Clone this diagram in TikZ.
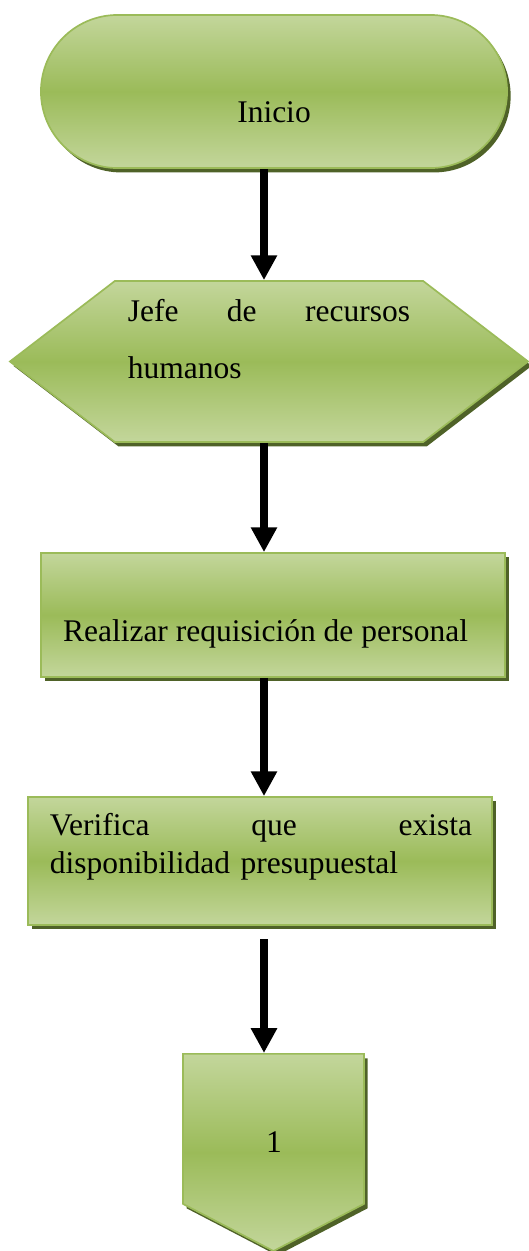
\documentclass[tikz,border=0pt]{standalone}
\usepackage{fontspec}
\setmainfont{Liberation Serif}
\usepackage{tikz}
\usetikzlibrary{arrows.meta, shapes.misc, shapes.symbols, shadows}
\definecolor{verdeclaro}{RGB}{195,214,155}
\definecolor{verdemedio}{RGB}{155,187,89}
\definecolor{bordeverde}{RGB}{155,187,89}
\definecolor{sombraverde}{RGB}{79,98,40}

\begin{document}
\begin{tikzpicture}[
    x=0.025cm, y=-0.025cm,
    caja/.style={draw=bordeverde, line width=1.2pt, inner sep=0pt, top color=verdeclaro, bottom color=verdeclaro, middle color=verdemedio,
        drop shadow={shadow xshift=0.09cm, shadow yshift=-0.11cm, fill=sombraverde, opacity=1}},
    texto/.style={font=\fontsize{22.4}{26.8}\selectfont, inner sep=0pt},
    flecha/.style={line width=0.21cm, -{Triangle[width=0.62cm, length=0.62cm]}}
]
    \useasboundingbox (0,0) rectangle (528,1251);

    % Shapes
    \node[caja, rounded rectangle, minimum width=11.65cm, minimum height=3.825cm] (inicio) at (274,91.5) {};
    \node[caja, signal, signal to=east and west, signal pointer angle=75, minimum width=12.95cm, minimum height=4.025cm] (jefe) at (269,361.5) {};
    \node[caja, rectangle, minimum width=11.6cm, minimum height=3.1cm] (realizar) at (273,615) {};
    \node[caja, rectangle, minimum width=11.6cm, minimum height=3.2cm] (verifica) at (260,861) {};
    \node[caja, signal, signal to=south, signal pointer angle=125, minimum width=4.525cm, minimum height=3.75cm, anchor=north] (conector) at (273.5,1053) {};

    % Texts
    \node[texto] (inicio-txt) at (274,112.6) {Inicio};
    \node[texto, text width=7.05cm, align=left, font=\fontsize{22.4}{40.3}\selectfont] (jefe-txt) at (269,339) {Jefe\hfill de\hfill recursos\\humanos};
    \node[texto] (realizar-txt) at (265.5,633.7) {Realizar requisición de personal};
    \node[texto, text width=10.55cm, align=left] (verifica-txt) at (261,846.5) {Verifica\hfill que\hfill exista\\disponibilidad presupuestal};
    \node[texto] (conector-txt) at (274,1142) {1};

    % Connections
    \coordinate (eje) at (264,0);
    \draw[flecha] (inicio.south -| eje) -- (jefe.north -| eje);
    \draw[flecha] (jefe.south -| eje) -- (realizar.north -| eje);
    \draw[flecha] (realizar.south -| eje) -- (verifica.north -| eje);
    \draw[flecha, shorten <=0.33cm] (verifica.south -| eje) -- (conector.north -| eje);
\end{tikzpicture}
\end{document}
